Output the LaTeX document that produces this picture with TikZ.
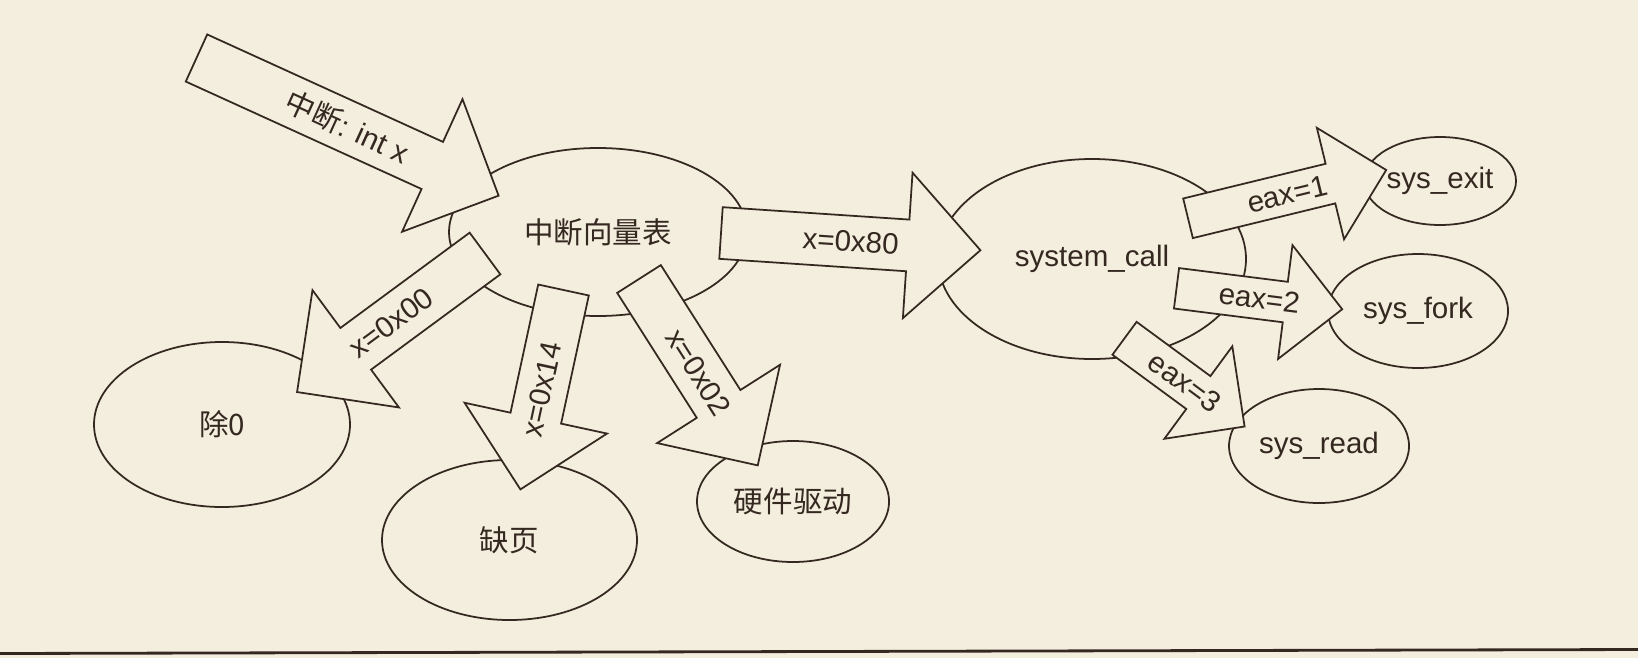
\documentclass[tikz,border=0pt]{standalone}
\usepackage{fontspec}
\setmainfont{Liberation Sans}
\newfontfamily\cjk{Noto Sans CJK SC}
\usetikzlibrary{shapes.geometric,shapes.arrows,calc}

\definecolor{paper}{RGB}{244,238,222}
\definecolor{ink}{RGB}{52,40,32}

\tikzset{
  blob/.style={ellipse, draw=ink, line width=0.5pt, inner sep=0pt, outer sep=0pt},
  bigarrow/.style={single arrow, draw=ink, fill=paper, line width=0.5pt, inner xsep=0pt,
    inner ysep=0.25cm, single arrow head extend=0.47cm, outer sep=0pt, anchor=tail},
  smallarrow/.style={bigarrow, inner ysep=0.195cm, single arrow head extend=0.37cm},
}

\begin{document}
\begin{tikzpicture}[font=\fontsize{8.4}{10}\selectfont, text=ink]
\fill[paper] (0,0) rectangle (16.38,-6.58);
\useasboundingbox (0,0) rectangle (16.38,-6.58);

% the tables and handlers
\node[blob, minimum width=2.98cm, minimum height=1.68cm] (vec) at (5.98,-2.32) {\cjk 中断向量表};
\node[blob, minimum width=3.08cm, minimum height=2.00cm] (sys) at (10.92,-2.59) {system\_call};
\node[blob, minimum width=1.52cm, minimum height=0.88cm] (exit) at (14.40,-1.81) {sys\_exit};
\node[blob, minimum width=1.80cm, minimum height=1.14cm] (fork) at (14.18,-3.11) {sys\_fork};
\node[blob, minimum width=1.80cm, minimum height=1.14cm] (read) at (13.19,-4.46) {sys\_read};
\node[blob, minimum width=2.56cm, minimum height=1.65cm] (div) at (2.22,-4.245) {\cjk 除0};
\node[blob, minimum width=2.55cm, minimum height=1.60cm] (page) at (5.095,-5.40) {\cjk 缺页};
\node[blob, minimum width=1.92cm, minimum height=1.21cm] (hw) at (7.93,-5.015) {\cjk 硬件驱动};

% big arrows
\node[bigarrow, rotate=-24.5, minimum height=3.32cm] (intx) at (1.965,-0.58) {};
\node[rotate=-24.5] (intxlbl) at ($(intx.tail)!.5!(intx.tip)$) {{\cjk 中断}: int x};

\node[bigarrow, rotate=-3.8, minimum height=2.60cm] (tosys) at (7.21,-2.33) {};
\node[rotate=-3.8] (tosyslbl) at ($(tosys.tail)!.5!(tosys.tip)$) {x=0x80};

\node[bigarrow, rotate=216.4, minimum height=2.335cm] (todiv) at (4.85,-2.535) {};
\node[rotate=36.4] (todivlbl) at ($(todiv.tail)!.5!(todiv.tip)$) {x=0x00};

\node[bigarrow, rotate=257.8, minimum height=2.04cm] (topage) at (5.635,-2.90) {};
\node[rotate=77.8] (topagelbl) at ($(topage.tail)!.5!(topage.tip)$) {x=0x14};

\node[bigarrow, rotate=-57.5, minimum height=2.21cm] (tohw) at (6.39,-2.79) {};
\node[rotate=-57.5] (tohwlbl) at ($(tohw.tail)!.5!(tohw.tip)$) {x=0x02};

% eax arrows
\node[smallarrow, rotate=13.7, minimum height=2.04cm] (toexit) at (11.88,-2.183) {};
\node[rotate=13.7] (toexitlbl) at ($(toexit.tail)!.5!(toexit.tip)$) {eax=1};

\node[smallarrow, rotate=-7.2, minimum height=1.67cm] (tofork) at (11.765,-2.883) {};
\node[rotate=-7.2] (toforklbl) at ($(tofork.tail)!.5!(tofork.tip)$) {eax=2};

\node[smallarrow, rotate=-36.3, minimum height=1.49cm] (toread) at (11.245,-3.383) {};
\node[rotate=-36.3] (toreadlbl) at ($(toread.tail)!.5!(toread.tip)$) {eax=3};

\draw[ink, line width=0.8pt] (0,-6.535) -- (16.38,-6.495);
\end{tikzpicture}
\end{document}
